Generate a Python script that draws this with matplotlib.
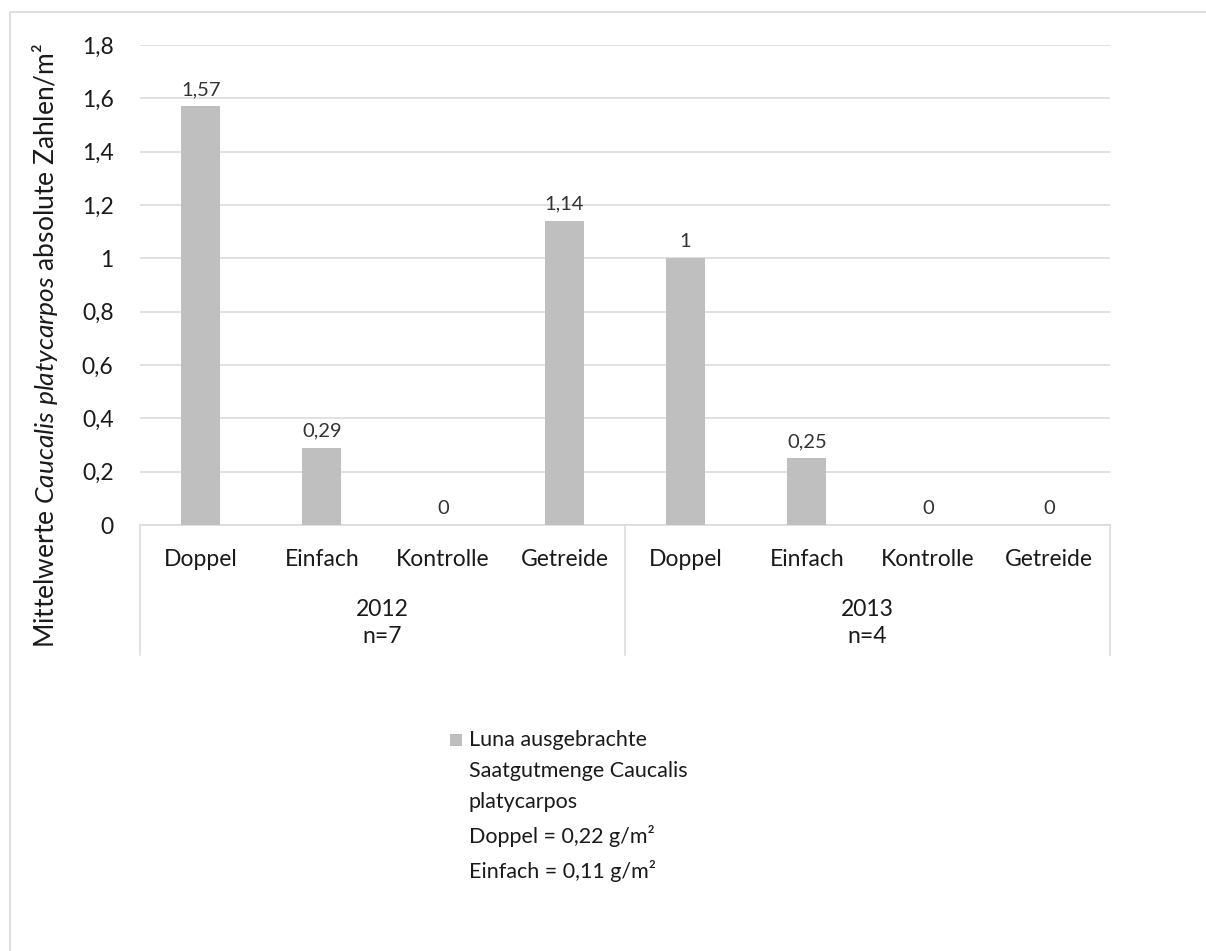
import matplotlib
matplotlib.use("Agg")
import matplotlib.pyplot as plt
from matplotlib.patches import Rectangle
import numpy as np

categories = ["Doppel", "Einfach", "Kontrolle", "Getreide",
              "Doppel", "Einfach", "Kontrolle", "Getreide"]
values = [1.57, 0.29, 0, 1.14, 1.0, 0.25, 0, 0]
value_labels = ["1,57", "0,29", "0", "1,14", "1", "0,25", "0", "0"]
groups = ["2012\nn=7", "2013\nn=4"]
yticks = [0, 0.2, 0.4, 0.6, 0.8, 1.0, 1.2, 1.4, 1.6, 1.8]
ytick_labels = ["0", "0,2", "0,4", "0,6", "0,8", "1", "1,2", "1,4", "1,6", "1,8"]
legend_text = ("Luna ausgebrachte\nSaatgutmenge Caucalis\nplatycarpos\n"
               "Doppel = 0,22 g/m²\nEinfach = 0,11 g/m²")

plt.rcParams['font.family'] = ['Lato', 'DejaVu Sans']
plt.rcParams['mathtext.fontset'] = 'custom'
plt.rcParams['mathtext.rm'] = 'Lato'
plt.rcParams['mathtext.it'] = 'Lato:italic'

W, H = 1206, 951
fig = plt.figure(figsize=(W / 100, H / 100), dpi=100)
fig.patch.set_facecolor('white')

txt_color = '#1a1a1a'

# outer chart frame
fig.patches.append(Rectangle((10 / W, -0.1), 2.0, (H - 12) / H + 0.1,
                             transform=fig.transFigure, fill=False,
                             edgecolor='#d9d9d9', linewidth=1.2))

ax = fig.add_axes([140 / W, (H - 525) / H, 970 / W, 480 / H])
x = np.arange(len(categories))
bar_color = '#bfbfbf'
ax.bar(x, values, width=0.32, color=bar_color, zorder=3)
ax.set_xlim(-0.5, len(categories) - 0.5)
ax.set_ylim(0, 1.8)
ax.set_yticks(yticks)
ax.set_yticklabels(ytick_labels, fontsize=16.5, color=txt_color)
ax.yaxis.grid(True, color='#d9d9d9', linewidth=1.1, zorder=0)
ax.set_axisbelow(True)
for s in ['top', 'right', 'left']:
    ax.spines[s].set_visible(False)
ax.spines['bottom'].set_color('#d9d9d9')
ax.spines['bottom'].set_linewidth(1.1)
ax.tick_params(axis='y', length=0, pad=19)
ax.set_xticks(x)
ax.set_xticklabels(categories, fontsize=16.5, color=txt_color)
ax.tick_params(axis='x', length=0, pad=17)

for xi, v, lab in zip(x, values, value_labels):
    ax.annotate(lab, (xi, v), xytext=(0, 6), textcoords='offset points',
                ha='center', va='bottom', fontsize=14.5, color='#333333')

# group separators
trans = ax.get_xaxis_transform()
sep_depth = -130 / 480
for bx in [-0.5, 3.5, 7.5]:
    ax.plot([bx, bx], [0, sep_depth], transform=trans, color='#d9d9d9',
            linewidth=1.1, clip_on=False)
for gi, g in enumerate(groups):
    cx = gi * 4 + 1.5
    ax.text(cx, -98 / 480, g, transform=trans, ha='center', va='center',
            fontsize=16.5, color=txt_color, linespacing=1.32)

fig.text(45 / W, (H - 345) / H,
         r"Mittelwerte $\mathit{Caucalis\ platycarpos}$ absolute Zahlen/m²",
         rotation=90, ha='center', va='center', fontsize=19, color=txt_color)

# legend
fig.patches.append(Rectangle((450 / W, (H - 746) / H), 12 / W, 12 / H,
                             transform=fig.transFigure, facecolor=bar_color,
                             edgecolor='none'))
fig.text(469 / W, (H - 730) / H, legend_text, ha='left', va='top',
         fontsize=15.5, color=txt_color, linespacing=1.70)

fig.savefig("out.png", dpi=100, facecolor='white')
